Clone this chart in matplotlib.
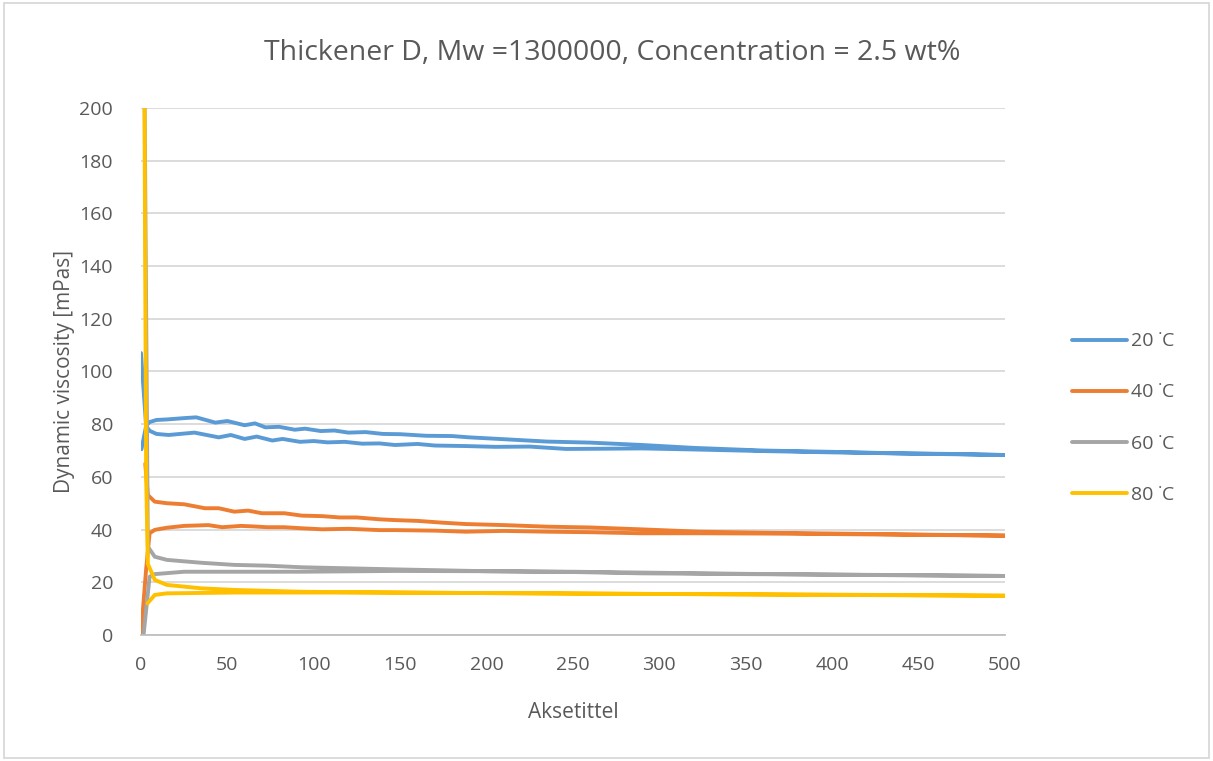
import matplotlib
matplotlib.use("Agg")
import numpy as np
import matplotlib.pyplot as plt
from matplotlib.patches import Rectangle

# shear rate sweep up then down, viscosity in mPas
x_20_up = [0, 3, 5, 9, 15, 25, 32, 43, 50, 60, 66, 72, 80, 89, 95, 104, 112, 120, 130, 140,
           150, 165, 180, 190, 210, 235, 260, 290, 320, 360, 400, 440, 470, 500]
y_20_up = [107, 79.5, 80.8, 81.6, 81.8, 82.3, 82.6, 80.6, 81.2, 79.6, 80.3, 78.8, 79.0, 77.9, 78.3, 77.4, 77.6, 76.8, 77.0, 76.3,
           76.2, 75.6, 75.5, 75.0, 74.3, 73.4, 73.0, 72.1, 71.0, 70.0, 69.5, 68.9, 68.7, 68.3]
x_20_down = [500, 450, 400, 360, 320, 290, 270, 246, 225, 205, 188, 170, 160, 147, 138, 128, 118, 108, 100, 92,
             82, 76, 67, 60, 52, 45, 31, 16, 9, 5, 3, 0.3]
y_20_down = [68.3, 68.8, 69.3, 69.8, 70.4, 70.8, 70.7, 70.6, 71.5, 71.4, 71.7, 71.9, 72.5, 72.1, 72.7, 72.6, 73.3, 73.1, 73.6, 73.3,
             74.4, 73.8, 75.3, 74.4, 75.9, 75.0, 76.8, 75.9, 76.3, 77.5, 79.3, 70.5]

x_40_up = [2.5, 4, 8, 15, 25, 37, 45, 54, 62, 70, 83, 93, 105, 115, 125, 138, 147, 160, 175, 188,
           210, 235, 260, 289, 323, 360, 400, 450, 500]
y_40_up = [65, 53.1, 50.6, 50.0, 49.6, 48.1, 48.1, 46.8, 47.2, 46.2, 46.2, 45.3, 45.1, 44.6, 44.6, 43.9, 43.6, 43.3, 42.6, 42.1,
           41.7, 41.1, 40.8, 40.1, 39.2, 38.8, 38.5, 38.1, 37.7]
x_40_down = [500, 450, 400, 360, 323, 289, 260, 235, 210, 188, 170, 147, 138, 120, 105, 93, 83, 73, 65, 58,
             47, 39, 25, 15, 8, 5, 3, 0]
y_40_down = [37.7, 38.0, 38.3, 38.5, 38.6, 38.6, 39.0, 39.2, 39.5, 39.2, 39.6, 39.8, 39.8, 40.3, 40.1, 40.5, 40.9, 40.9, 41.2, 41.4,
             40.9, 41.7, 41.4, 40.7, 39.9, 38.6, 25, 0]

x_60_up = [1.5, 4, 8, 15, 35, 54, 73, 93, 120, 147, 200, 250, 289, 350, 400, 450, 500]
y_60_up = [260, 33.5, 29.7, 28.5, 27.4, 26.6, 26.3, 25.7, 25.3, 24.9, 24.2, 23.9, 23.4, 23.1, 22.9, 22.7, 22.4]
x_60_down = [500, 450, 400, 350, 300, 250, 200, 147, 93, 54, 25, 8, 5, 1.5]
y_60_down = [22.4, 22.6, 22.9, 23.2, 23.6, 24.0, 24.2, 24.3, 24.0, 24.0, 24.0, 23.1, 22.1, 0]

x_80_up = [1.5, 3, 4, 8, 15, 35, 54, 93, 147, 200, 289, 400, 500]
y_80_up = [280, 60, 27, 20.9, 19.0, 17.7, 17.1, 16.4, 16.1, 15.9, 15.6, 15.3, 14.9]
x_80_down = [500, 400, 289, 200, 147, 54, 15, 8, 3.8]
y_80_down = [14.9, 15.2, 15.6, 15.9, 16.1, 16.1, 15.8, 15.2, 12.0]

labels = ["20 \u02d9C", "40 \u02d9C", "60 \u02d9C", "80 \u02d9C"]
colors = ["#5B9BD5", "#ED7D31", "#A5A5A5", "#FFC000"]

series = [
    (x_20_up + x_20_down, y_20_up + y_20_down),
    (x_40_up + x_40_down, y_40_up + y_40_down),
    (x_60_up + x_60_down, y_60_up + y_60_down),
    (x_80_up + x_80_down, y_80_up + y_80_down),
]

txt = "#595959"
plt.rcParams["font.family"] = ["Open Sans", "DejaVu Sans"]

fig = plt.figure(figsize=(12.13, 7.61), dpi=100)
ax = fig.add_axes([0.1162, 0.1656, 0.7123, 0.6925])

for (x, y), lab, c in zip(series, labels, colors):
    ax.plot(x, y, color=c, lw=2.8, label=lab, solid_joinstyle="round", solid_capstyle="round")

ax.set_xlim(0, 500)
ax.set_ylim(0, 200)
ax.set_xticks(np.arange(0, 501, 50))
ax.set_yticks(np.arange(0, 201, 20))
ax.grid(axis="y", color="#D9D9D9", lw=1.3)
ax.set_axisbelow(True)
for s in ["top", "right", "left"]:
    ax.spines[s].set_visible(False)
ax.spines["bottom"].set_color("#BFBFBF")
ax.spines["bottom"].set_linewidth(1.3)
ax.tick_params(length=0, labelsize=14, labelcolor=txt)
ax.tick_params(axis="y", pad=20)
ax.tick_params(axis="x", pad=15)

ax.set_xlabel("Aksetittel", fontsize=15, color=txt, labelpad=20)
ax.set_ylabel("Dynamic viscosity [mPas]", fontsize=15, color=txt, labelpad=3)
fig.text(0.5045, 0.930, "Thickener D, Mw =1300000, Concentration = 2.5 wt%",
         ha="center", va="center", fontsize=20.5, color=txt)

fig.legend(loc="center left", bbox_to_anchor=(0.876, 0.4507), frameon=False,
           fontsize=14, handlelength=2.8, handletextpad=0.2, labelspacing=1.7,
           labelcolor=txt, borderpad=0)

fig.add_artist(Rectangle((0.003, 0.004), 0.994, 0.992, transform=fig.transFigure,
                         fill=False, edgecolor="#D9D9D9", lw=1.3))

fig.savefig("out.png", dpi=100, facecolor="white")
